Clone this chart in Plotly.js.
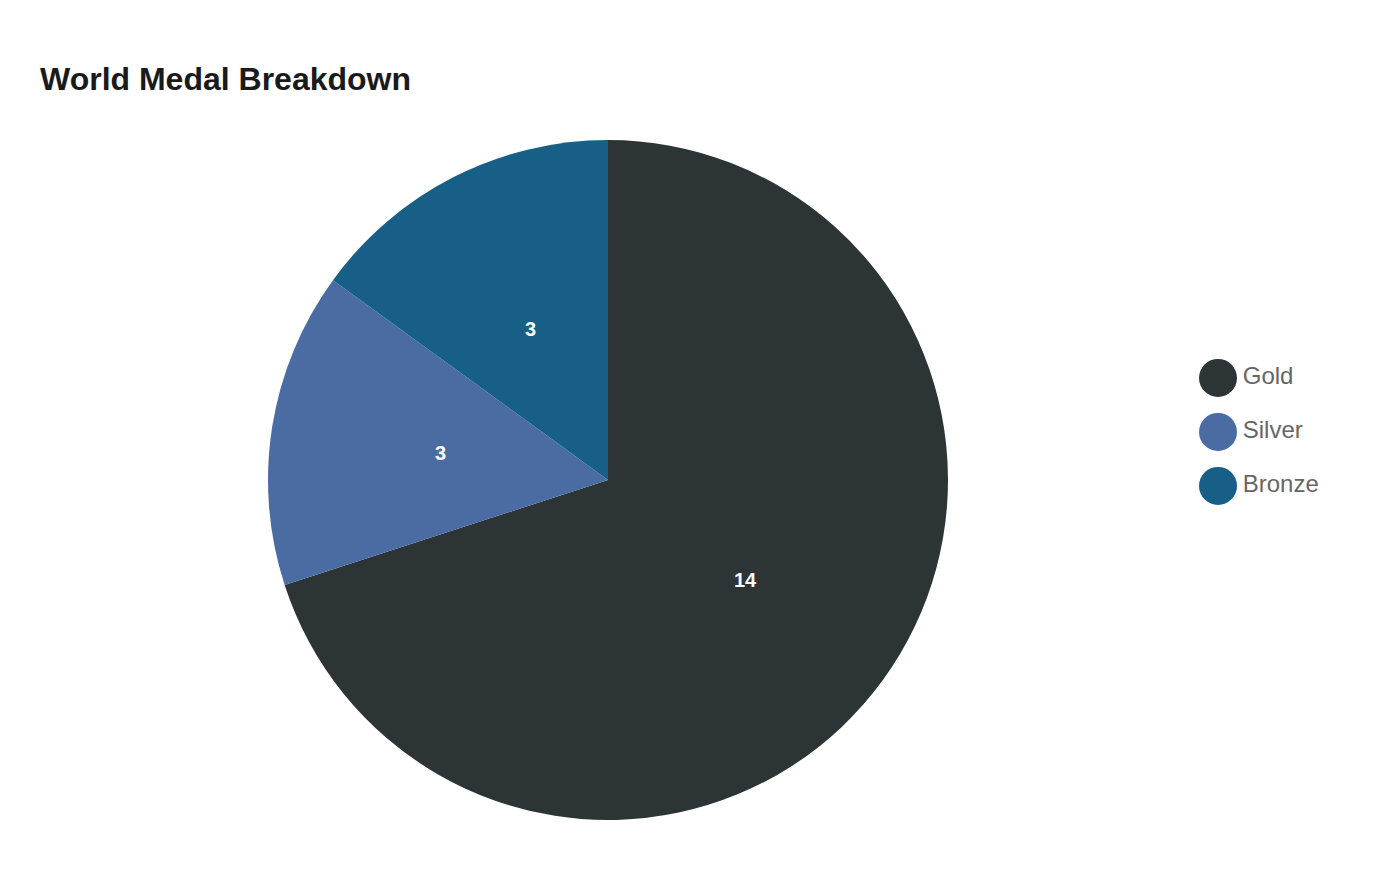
<!DOCTYPE html>
<html>
<head>
<meta charset="utf-8">
<script src="https://cdn.plot.ly/plotly-3.0.1.min.js"></script>
<style>
  html, body { margin: 0; padding: 0; background: #fff; }
  #chart { width: 1400px; height: 880px; }
</style>
</head>
<body>
<div id="chart"></div>
<script>
const medals = ['Gold', 'Silver', 'Bronze'];
const counts = [14, 3, 3];
const medalColors = ['#2d3436', '#4a6ca2', '#175f87'];

const FONT = 'Liberation Sans, Arial, sans-serif';
const W = 1400, H = 880;

// pie box in pixels -> paper domain
const pieBox = { x0: 268, x1: 948, y0: 140, y1: 820 };
const pieDomain = {
    x: [pieBox.x0 / W, pieBox.x1 / W],
    y: [1 - pieBox.y1 / H, 1 - pieBox.y0 / H]
};

const pie = {
    type: 'pie',
    labels: medals,
    values: counts,
    sort: false,
    direction: 'clockwise',
    rotation: 0,
    marker: { colors: medalColors, line: { width: 0 } },
    textinfo: 'none',
    domain: pieDomain,
    showlegend: false,
    hoverinfo: 'label+value+percent'
};

// value labels sit half way out along each slice's middle angle
const total = counts.reduce((a, b) => a + b, 0);
const cx = (pieDomain.x[0] + pieDomain.x[1]) / 2;
const cy = (pieDomain.y[0] + pieDomain.y[1]) / 2;
const rPx = (pieBox.x1 - pieBox.x0) / 2;
let acc = 0;
const valueLabels = counts.map(v => {
    const mid = (acc + v / 2) / total * 2 * Math.PI;
    acc += v;
    return {
        text: String(v),
        xref: 'paper', yref: 'paper',
        x: cx + 0.5 * rPx * Math.sin(mid) / W,
        y: cy + 0.5 * rPx * Math.cos(mid) / H,
        showarrow: false,
        xanchor: 'center', yanchor: 'middle',
        font: { color: '#fff', size: 20, family: FONT, weight: 'bold' }
    };
});

// legend with big round swatches, built from the same arrays
const legendTrace = {
    type: 'scatter',
    mode: 'markers+text',
    x: medals.map(() => 0),
    y: medals.map((_, i) => i),
    text: medals,
    textposition: 'middle right',
    textfont: { color: '#666', size: 24, family: FONT },
    marker: { size: 38, color: medalColors },
    showlegend: false,
    hoverinfo: 'skip',
    cliponaxis: false
};

const layout = {
    width: W,
    height: H,
    margin: { t: 0, b: 0, l: 0, r: 0 },
    paper_bgcolor: '#fff',
    plot_bgcolor: 'rgba(0,0,0,0)',
    font: { family: FONT, color: '#1a1a1a' },
    title: {
        text: 'World Medal Breakdown',
        font: { size: 32, family: FONT, color: '#1a1a1a', weight: 'bold' },
        x: 40 / W,
        xanchor: 'left',
        y: 1 - 79 / H,
        yanchor: 'middle'
    },
    xaxis: { visible: false, range: [-12.18, 1.82], fixedrange: true },
    yaxis: { visible: false, range: [9.3, -7.0], fixedrange: true },
    annotations: valueLabels,
    showlegend: false
};

Plotly.newPlot('chart', [pie, legendTrace], layout, { displayModeBar: false, staticPlot: true });
</script>
</body>
</html>
